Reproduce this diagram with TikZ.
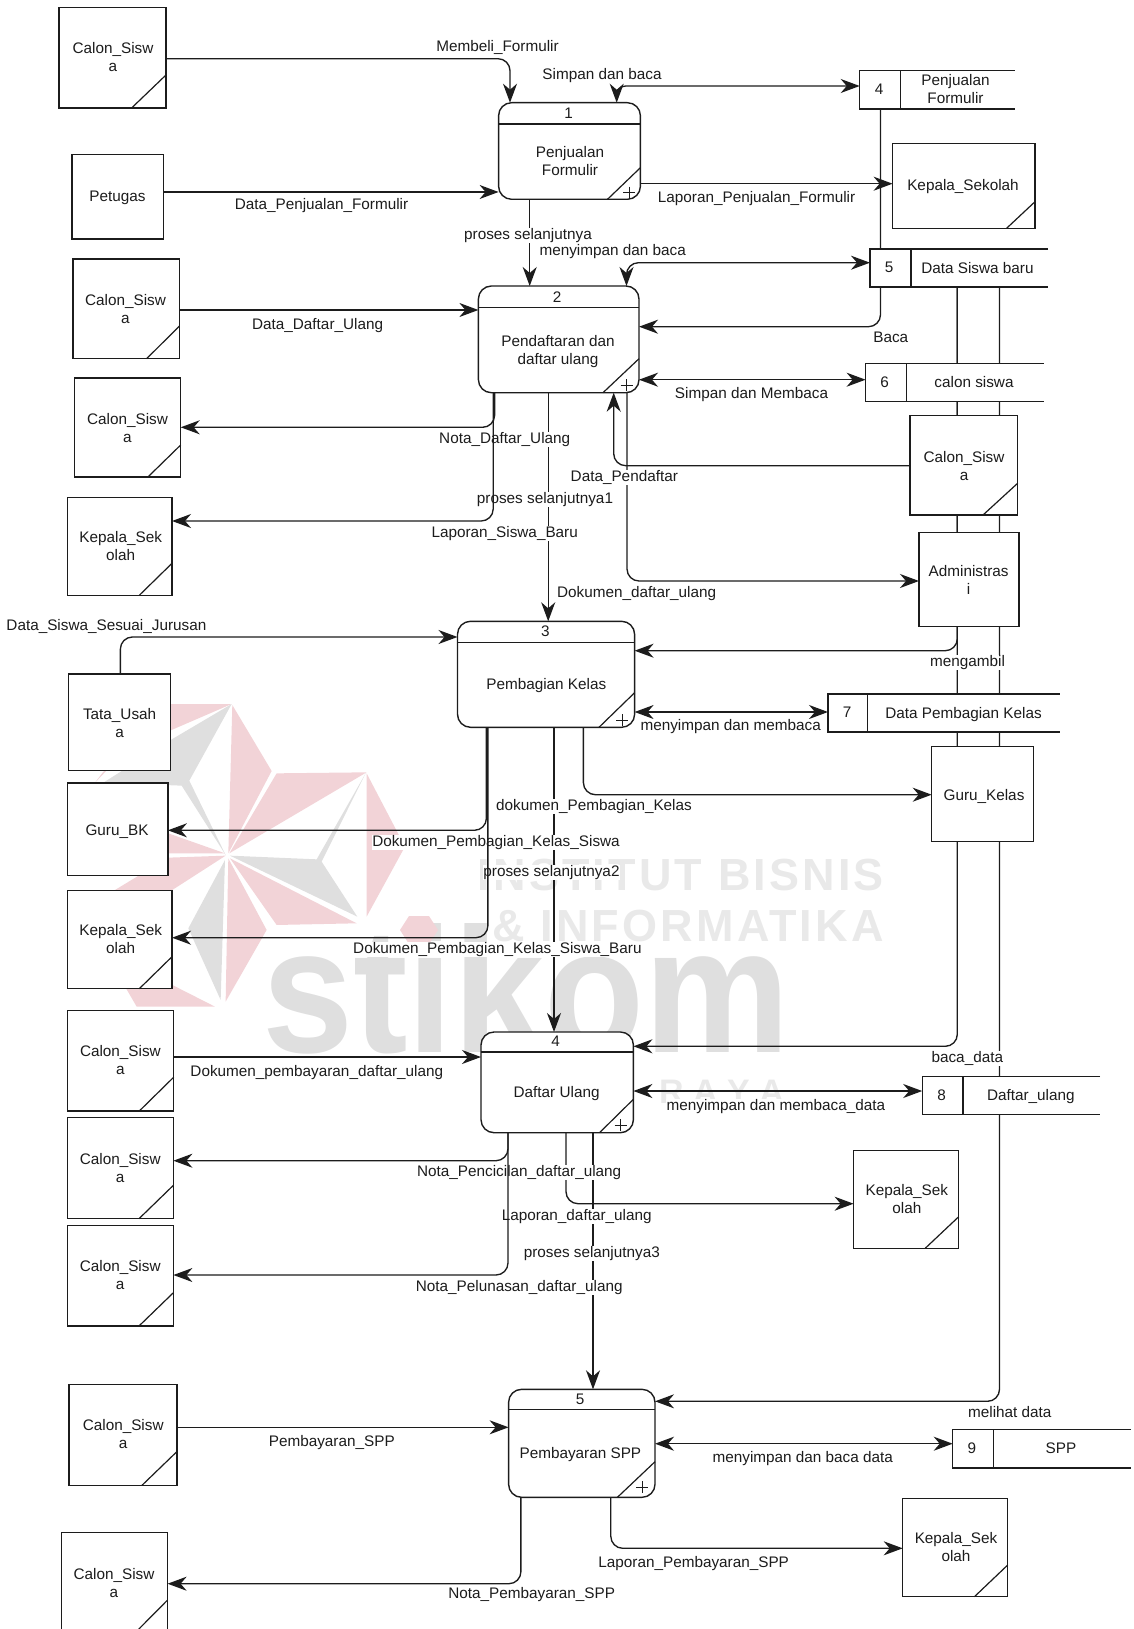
\documentclass[tikz,border=0pt]{standalone}
\usepackage{fontspec}
\setmainfont{Liberation Sans}
\newfontfamily\wmfont[LetterSpace=7]{Liberation Sans}
\newfontfamily\wmfontb{Liberation Sans}
\usetikzlibrary{arrows.meta}
\pgfdeclarelayer{wm}\pgfdeclarelayer{under}\pgfdeclarelayer{labs}\pgfdeclarelayer{over}
\pgfsetlayers{wm,under,labs,over,main}
\definecolor{ink}{HTML}{1C1C1C}
\definecolor{wmpink}{HTML}{F2D3D7}
\definecolor{wmgrey}{HTML}{DFDFDF}
\definecolor{wmtext}{HTML}{E9E9E9}
\newcommand{\linestrut}{\rule[-3.3pt]{0pt}{14.3pt}}
\tikzset{
  box/.style={draw=ink,line width=1.4pt,fill=white,inner sep=0pt,outer sep=0pt,rectangle},
  prc/.style={box,rounded corners=13pt},
  thinln/.style={draw=ink,line width=1.2pt},
  txt/.style={inner sep=0pt,outer sep=0pt,text=ink,align=center,font=\fontsize{15.3}{18}\selectfont,execute at begin node=\linestrut,execute at end node=\linestrut,yshift=-1pt},
  lbl/.style={txt,fill=white,inner xsep=0.5pt,inner ysep=0.5pt},
  flow/.style={draw=ink,line width=1.35pt,-{Stealth[length=19pt,width=14pt,inset=6pt]}},
  bi/.style={draw=ink,line width=1.35pt,{Stealth[length=19pt,width=14pt,inset=6pt]}-{Stealth[length=19pt,width=14pt,inset=6pt]}},
  rc/.style={rounded corners=12pt},
  plain/.style={draw=ink,line width=1.35pt},
}
% entity: name, x1,y1,x2,y2, tx,ty, text
\newcommand{\entbox}[8]{%
  \pgfmathsetmacro{\cx}{(#2+#4)/2}\pgfmathsetmacro{\cy}{(#3+#5)/2}%
  \pgfmathsetmacro{\bw}{#4-#2}\pgfmathsetmacro{\bh}{#5-#3}%
  \node[box,minimum width=\bw pt,minimum height=\bh pt] (#1) at (\cx,\cy) {};%
  \node[txt] (#1t) at (#6,#7) {#8};}
% corner slash: node, x, y on right edge
\newcommand{\slashmark}[3]{\draw[thinln] (#2,0 |- #1.south) -- (#1.east |- 0,#3);}
% process: name, x1,y1,x2,y2, header y, num x, num, (tx,ty) {text}
\newcommand{\procbox}[9]{%
  \pgfmathsetmacro{\cx}{(#2+#4)/2}\pgfmathsetmacro{\cy}{(#3+#5)/2}%
  \pgfmathsetmacro{\bw}{#4-#2}\pgfmathsetmacro{\bh}{#5-#3}%
  \node[prc,minimum width=\bw pt,minimum height=\bh pt] (#1) at (\cx,\cy) {};%
  \draw[plain] (#1.west |- 0,#6) -- (#1.east |- 0,#6);%
  \node[txt] (#1n) at (#7,#6-10.5) {#8};%
  \node[txt] (#1t) at #9;}
\newcommand{\plusmark}[5]{\draw[thinln] (#2,0 |- #1.south) -- (#1.east |- 0,#3);
  \draw[draw=ink,line width=0.9pt] (#4-6,#5) -- (#4+6,#5) (#4,#5-6) -- (#4,#5+6);}
% store: name, left, divider, right, top, bottom, num x, num, (tx,ty) {text}
\newcommand{\storebox}[9]{%
  \pgfmathsetmacro{\cx}{(#2+#4)/2}\pgfmathsetmacro{\cy}{(#5+#6)/2}%
  \pgfmathsetmacro{\bw}{#4-#2}\pgfmathsetmacro{\bh}{#6-#5}%
  \node[inner sep=0pt,outer sep=0pt,fill=white,rectangle,minimum width=\bw pt,minimum height=\bh pt] (#1) at (\cx,\cy) {};%
  \draw[plain] (#4,#5) -- (#2,#5) -- (#2,#6) -- (#4,#6) (#3,#5) -- (#3,#6);%
  \node[txt] (#1n) at (#7,\cy) {#8};%
  \node[txt] (#1t) at #9;}
\newcommand{\lab}[4]{\node[lbl] (#1) at (#2,#3) {#4};}
\begin{document}
\begin{tikzpicture}[x=1pt,y=-1pt]
\useasboundingbox (0,0) rectangle (1133,1629);

% ---------- nodes ----------
\entbox{e1}{59}{7.5}{166}{108}{113}{58}{Calon\_Sisw\\a}
\slashmark{e1}{131.6}{75}
\entbox{pet}{72}{154.7}{163.4}{239}{117.5}{197}{Petugas}
\entbox{c3}{73}{259}{179.5}{358.7}{125.5}{310}{Calon\_Sisw\\a}
\slashmark{c3}{146.6}{326}
\entbox{c4}{74.3}{378}{180.7}{477}{127.5}{428.5}{Calon\_Sisw\\a}
\slashmark{c4}{147.9}{445}
\entbox{k1}{67.5}{497.3}{172}{595.3}{120.7}{546.3}{Kepala\_Sek\\olah}
\slashmark{k1}{139.3}{563.3}
\entbox{tata}{68.6}{674}{170.7}{770.7}{119.6}{723.5}{Tata\_Usah\\a}
\entbox{gb}{67.5}{783}{167.9}{875.7}{117}{830.3}{Guru\_BK}
\entbox{k2}{67.5}{890.3}{172}{988.7}{120.7}{939.8}{Kepala\_Sek\\olah}
\slashmark{k2}{139.3}{956.7}
\entbox{c5}{67.5}{1010.3}{173.6}{1111}{120.4}{1061}{Calon\_Sisw\\a}
\slashmark{c5}{139.3}{1077.3}
\entbox{c6}{67.7}{1117.7}{173.4}{1218.7}{120.2}{1168.5}{Calon\_Sisw\\a}
\slashmark{c6}{139}{1185.3}
\entbox{c7}{67.7}{1225.3}{173.4}{1326}{120.2}{1276}{Calon\_Sisw\\a}
\slashmark{c7}{139}{1292.7}
\entbox{c9}{68.9}{1384.3}{176.8}{1485.3}{123.2}{1435}{Calon\_Sisw\\a}
\slashmark{c9}{142}{1451.7}
\entbox{c8}{61.2}{1532.7}{167.6}{1640}{114}{1583.5}{Calon\_Sisw\\a}
\draw[thinln] (128,1640) -- (c8.east |- 0,1600);

\entbox{ks}{892.6}{143.7}{1035}{228.3}{963}{186}{Kepala\_Sekolah}
\slashmark{ks}{1006.6}{201.7}
\entbox{cs}{910}{415.7}{1017.6}{515}{964}{466.5}{Calon\_Sisw\\a}
\slashmark{cs}{983}{483.3}
\entbox{adm}{919}{532.7}{1019}{626.7}{968.6}{580.3}{Administras\\i}
\entbox{gk}{931.7}{746.7}{1033.7}{841.7}{984}{795.3}{Guru\_Kelas}
\entbox{k3}{853.6}{1150.3}{958.7}{1248.3}{906.8}{1199.3}{Kepala\_Sek\\olah}
\slashmark{k3}{925.2}{1216.7}
\entbox{k4}{902.7}{1498.7}{1007.7}{1596.7}{956}{1548}{Kepala\_Sek\\olah}
\slashmark{k4}{974.4}{1565}

\procbox{p1}{498.6}{102.7}{640.4}{199.3}{124}{568.7}{1}{(570,161.3) {Penjualan\\Formulir}}
\plusmark{p1}{607.5}{167.7}{629.4}{192.7}
\procbox{p2}{478.4}{286}{639}{392.7}{307.7}{557}{2}{(558,351) {Pendaftaran dan\\daftar ulang}}
\plusmark{p2}{603}{358.7}{626.5}{385}
\procbox{p3}{457.5}{621.3}{634.6}{727.3}{642.3}{545.4}{3}{(546.3,684.3) {Pembagian Kelas}}
\plusmark{p3}{599}{692.7}{622}{720}
\procbox{p4}{481}{1032}{633.4}{1132.7}{1052}{555.7}{4}{(556.6,1092.7) {Daftar Ulang}}
\plusmark{p4}{599.5}{1099.3}{620.5}{1125}
\procbox{p5}{508.6}{1389.3}{655}{1497.3}{1409.7}{580}{5}{(580.4,1453.3) {Pembayaran SPP}}
\plusmark{p5}{617.4}{1461.7}{642}{1487.3}

\storebox{s4}{859.7}{900.6}{1014.7}{70.7}{109}{879}{4}{(955.5,89.3) {Penjualan\\Formulir}}
\storebox{s5}{870}{911}{1048}{249}{287}{889}{5}{(977.4,268.3) {Data Siswa baru}}
\storebox{s6}{865.6}{906.5}{1043.6}{363.3}{401.7}{884.6}{6}{(974,382.3) {calon siswa}}
\storebox{s7}{828}{867.4}{1059.6}{694}{732}{847}{7}{(963.5,713.3) {Data Pembagian Kelas}}
\storebox{s8}{922.2}{963}{1100}{1076.3}{1114.3}{941.5}{8}{(1030.8,1095.7) {Daftar\_ulang}}
\storebox{s9}{952.7}{993.5}{1130.6}{1429.7}{1468}{971.9}{9}{(1061,1449) {SPP}}

% ---------- watermark ----------
\begin{pgfonlayer}{wm}
\begin{scope}[shift={(60,690)},x=0.3333pt,y=-0.3333pt]
  \fill[wmpink] (515,42) -- (330,42) -- (105,278) -- (130,245) -- (330,122) -- cycle;
  \fill[wmgrey] (515,42) -- (332,150) -- (130,278) -- (365,287) -- (497,495) -- (388,272) -- cycle;
  \fill[wmpink] (517,45) -- (635,243) -- (505,490) -- cycle;
  \fill[wmpink] (650,250) -- (920,247) -- (508,490) -- cycle;
  \fill[wmgrey] (918,248) -- (770,508) -- (510,497) -- (892,680) -- (785,515) -- cycle;
  \fill[wmpink] (920,250) -- (1035,470) -- (920,680) -- cycle;
  \fill[wmpink] (510,505) -- (890,700) -- (650,705) -- cycle;
  \fill[wmpink] (505,505) -- (620,720) -- (497,935) -- cycle;
  \fill[wmgrey] (495,510) -- (482,930) -- (385,715) -- cycle;
  \fill[wmpink] (325,430) -- (495,490) -- (325,490) -- cycle;
  \fill[wmpink] (497,497) -- (325,503) -- (165,600) -- (120,760) -- (230,950) -- (465,950) -- (337,885) -- (337,600) -- cycle;
\end{scope}
\node[inner sep=0pt,anchor=base west,text=wmgrey] (wmstikom) at (262,1052) {\wmfontb\bfseries\fontsize{178}{178}\selectfont\scalebox{0.92}[1]{stikom}};
\fill[wmpink] (400,930) -- (409,916) -- (429,916) -- (438,930) -- (429,944) -- (409,944) -- cycle;
\node[inner sep=0pt,anchor=base east,text=wmtext] (wmone) at (884,890) {\wmfont\bfseries\fontsize{45}{45}\selectfont INSTITUT BISNIS};
\node[inner sep=0pt,anchor=base east,text=wmtext] (wmtwo) at (884,941.7) {\wmfont\bfseries\fontsize{45}{45}\selectfont \&\ INFORMATIKA};
\node[inner sep=0pt,anchor=base west,text=wmtext] (wmthree) at (659,1103) {\wmfontb\bfseries\fontsize{34}{34}\selectfont R A Y A};
\end{pgfonlayer}

% ---------- connectors below labels ----------
\begin{pgfonlayer}{under}
\draw[flow,rc] (e1.east |- 0,58.7) -| (510,0 |- p1.north);
\draw[flow] (pet.east |- 0,192) -- (p1.west |- 0,192);
\draw[bi,rounded corners=9pt] (616.7,0 |- p1.north) |- (s4.west |- 0,86);
\draw[flow] (p1.east |- 0,183.7) -- (ks.west |- 0,183.7);
\draw[flow,rc] (880.5,0 |- s4.south) |- (p2.east |- 0,326.7);
\draw[flow] (529.7,0 |- p1.south) -- (529.7,0 |- p2.north);
\draw[bi,rc] (626.5,0 |- p2.north) |- (s5.west |- 0,262.7);
\draw[flow] (c3.east |- 0,310) -- (p2.west |- 0,310);
\draw[bi] (p2.east |- 0,379.7) -- (s6.west |- 0,379.7);
\draw[flow,rc] (cs.west |- 0,465.7) -| (613.7,0 |- p2.south);
\draw[flow,rc] (627,0 |- p2.south) |- (adm.west |- 0,581);
\draw[flow] (548.2,0 |- p2.south) -- (548.2,0 |- p3.north);
\draw[flow,rc] (957.3,0 |- s5.south) |- (p3.east |- 0,650.7);
\draw[flow,rc] (957.3,0 |- s5.south) |- (p4.east |- 0,1046.3);
\draw[flow,rc] (999.5,0 |- s5.south) |- (p5.east |- 0,1401.3);
\draw[flow,rc] (120.4,0 |- tata.north) |- (p3.west |- 0,637);
\draw[bi] (p3.east |- 0,712) -- (s7.west |- 0,712);
\draw[flow,rc] (583.4,0 |- p3.south) |- (gk.west |- 0,794.7);
\draw[flow] (554,0 |- p3.south) -- (554,0 |- p4.north);
\draw[flow] (c5.east |- 0,1057) -- (p4.west |- 0,1057);
\draw[bi] (p4.east |- 0,1091) -- (s8.west |- 0,1091);
\draw[flow,rc] (566,0 |- p4.south) |- (k3.west |- 0,1203.7);
\draw[flow] (593,0 |- p4.south) -- (593,0 |- p5.north);
\draw[flow] (c9.east |- 0,1427.3) -- (p5.west |- 0,1427.3);
\draw[bi] (p5.east |- 0,1443.7) -- (s9.west |- 0,1443.7);
\draw[flow,rc] (610.8,0 |- p5.south) |- (k4.west |- 0,1548.3);
\end{pgfonlayer}

% ---------- connector labels ----------
\begin{pgfonlayer}{labs}
\lab{l01}{497.5}{46.7}{Membeli\_Formulir}
\lab{l02}{602}{74.3}{Simpan dan baca}
\lab{l03}{321.5}{205}{Data\_Penjualan\_Formulir}
\lab{l04}{756.6}{197.3}{Laporan\_Penjualan\_Formulir}
\lab{l05}{528}{234.7}{proses selanjutnya}
\lab{l06}{612.7}{250.4}{menyimpan dan baca}
\lab{l07}{317.6}{324.3}{Data\_Daftar\_Ulang}
\lab{l08}{890.8}{337.3}{Baca}
\lab{l09}{751.5}{393.3}{Simpan dan Membaca}
\lab{l10}{504.7}{438.3}{Nota\_Daftar\_Ulang}
\lab{l11}{624.3}{476.3}{Data\_Pendaftar}
\lab{l12}{545}{498.7}{proses selanjutnya1}
\lab{l13}{504.7}{532.7}{Laporan\_Siswa\_Baru}
\lab{l14}{636.6}{592.3}{Dokumen\_daftar\_ulang}
\lab{l15}{106.4}{625.3}{Data\_Siswa\_Sesuai\_Jurusan}
\lab{l16}{967.5}{661.7}{mengambil}
\lab{l17}{730.7}{725.7}{menyimpan dan membaca}
\lab{l18}{594}{805.7}{dokumen\_Pembagian\_Kelas}
\lab{l19}{496}{841.3}{Dokumen\_Pembagian\_Kelas\_Siswa}
\lab{l20}{551.5}{871.7}{proses selanjutnya2}
\lab{l21}{497.4}{948.3}{Dokumen\_Pembagian\_Kelas\_Siswa\_Baru}
\lab{l22}{316.8}{1071.7}{Dokumen\_pembayaran\_daftar\_ulang}
\lab{l23}{967.3}{1057.7}{baca\_data}
\lab{l24}{775.9}{1105.7}{menyimpan dan membaca\_data}
\lab{l25}{519.2}{1171.7}{Nota\_Pencicilan\_daftar\_ulang}
\lab{l26}{576.7}{1215.7}{Laporan\_daftar\_ulang}
\lab{l27}{591.8}{1252.7}{proses selanjutnya3}
\lab{l28}{519.2}{1286.3}{Nota\_Pelunasan\_daftar\_ulang}
\lab{l29}{1009.8}{1412.3}{melihat data}
\lab{l30}{331.8}{1441.3}{Pembayaran\_SPP}
\lab{l31}{802.8}{1457.3}{menyimpan dan baca data}
\lab{l32}{693.7}{1562.3}{Laporan\_Pembayaran\_SPP}
\lab{l33}{531.7}{1594}{Nota\_Pembayaran\_SPP}
\end{pgfonlayer}

% ---------- connectors over labels ----------
\begin{pgfonlayer}{over}
\draw[flow,rc] (494.6,0 |- p2.south) |- (c4.east |- 0,427.3);
\draw[flow,rc] (493.2,0 |- p2.south) |- (k1.east |- 0,521);
\draw[flow,rc] (486.4,0 |- p3.south) |- (gb.east |- 0,830.3);
\draw[flow,rc] (487.9,0 |- p3.south) |- (k2.east |- 0,937.7);
\draw[flow,rc] (508,0 |- p4.south) |- (c6.east |- 0,1160.7);
\draw[flow,rc] (508,0 |- p4.south) |- (c7.east |- 0,1275);
\draw[flow,rc] (520.9,0 |- p5.south) |- (c8.east |- 0,1583.7);
\end{pgfonlayer}
\end{tikzpicture}
\end{document}
